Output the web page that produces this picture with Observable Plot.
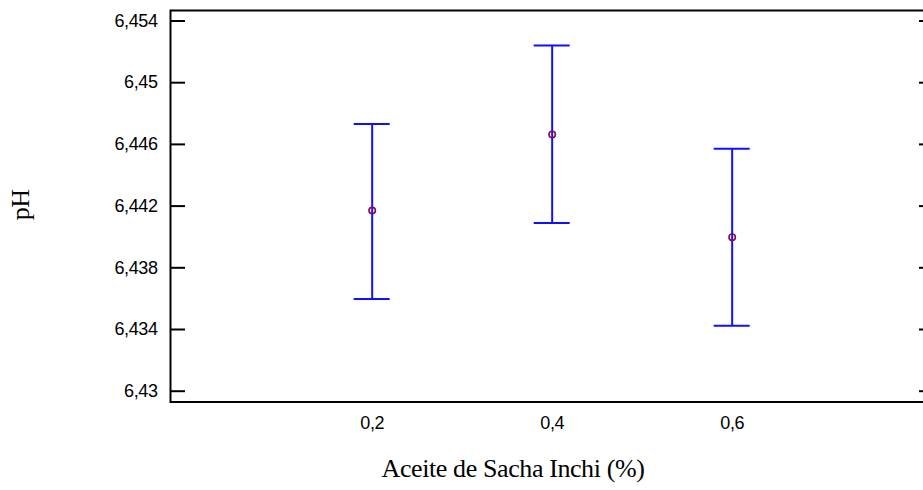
<!DOCTYPE html>
<html>
<head>
<meta charset="utf-8">
<script src="https://cdn.jsdelivr.net/npm/d3@7"></script>
<script src="https://cdn.jsdelivr.net/npm/@observablehq/plot@0.6"></script>
<style>
  html, body { margin: 0; padding: 0; background: #fff; }
  #chart { width: 923px; height: 490px; overflow: hidden; }
</style>
</head>
<body>
<div id="chart"></div>
<script>
const levels = [0.2, 0.4, 0.6];
const means  = [6.44171, 6.44664, 6.43998];
const lowers = [6.43598, 6.44091, 6.43425];
const uppers = [6.44733, 6.45241, 6.44571];
const yTicks = [6.43, 6.434, 6.438, 6.442, 6.446, 6.45, 6.454];
const xTicks = [0.2, 0.4, 0.6];
const xLabel = "Aceite de Sacha Inchi (%)";
const yLabel = "pH";

const data = levels.map((x, i) => ({x, mean: means[i], lower: lowers[i], upper: uppers[i]}));
const comma = d => String(d).replace(".", ",");
const capHalf = 0.02;
const blue = "#1010ff";

const chart = Plot.plot({
  width: 923,
  height: 490,
  marginLeft: 170,
  marginRight: -10,
  marginTop: 10,
  marginBottom: 88.5,
  style: {fontFamily: "'Liberation Sans', Arial, sans-serif", fontSize: "18px", letterSpacing: "-0.4px", color: "#000", background: "#fff", overflow: "hidden"},
  x: {domain: [-0.0241, 0.8237]},
  y: {domain: [6.4293, 6.45468]},
  marks: [
    Plot.frame({stroke: "#000", strokeWidth: 2}),
    Plot.axisY(yTicks, {anchor: "left", tickSize: -15, tickPadding: 28, tickFormat: comma, label: null, strokeWidth: 2}),
    Plot.axisY(yTicks, {anchor: "right", tickSize: -15, fill: "none", label: null, strokeWidth: 2}),
    Plot.axisX(xTicks, {anchor: "bottom", tickSize: 0, tickPadding: 14, tickFormat: comma, label: null}),
    Plot.text([xLabel], {frameAnchor: "bottom", dx: -39, dy: 75, fontFamily: "'Liberation Serif', 'Times New Roman', serif", fontSize: 26, letterSpacing: "0px", fill: "#000"}),
    Plot.text([yLabel], {frameAnchor: "left", dx: -150, dy: 14, rotate: -90, fontFamily: "'Liberation Serif', 'Times New Roman', serif", fontSize: 26, letterSpacing: "0px", fill: "#000"}),
    Plot.ruleX(data, {x: "x", y1: "lower", y2: "upper", stroke: blue, strokeWidth: 2}),
    Plot.ruleY(data, {y: "upper", x1: d => d.x - capHalf, x2: d => d.x + capHalf, stroke: blue, strokeWidth: 2}),
    Plot.ruleY(data, {y: "lower", x1: d => d.x - capHalf, x2: d => d.x + capHalf, stroke: blue, strokeWidth: 2}),
    Plot.dot(data, {x: "x", y: "mean", r: 3.2, stroke: "#8a0a4a", strokeWidth: 1.6, fill: "none"})
  ]
});
document.getElementById("chart").appendChild(chart);
</script>
</body>
</html>
